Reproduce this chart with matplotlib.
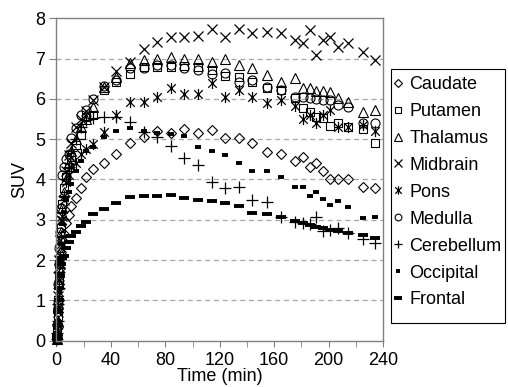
import numpy as np
import matplotlib
matplotlib.use("Agg")
from matplotlib import pyplot as plt
from matplotlib.path import Path
from matplotlib.patches import Rectangle

plt.rcParams['font.family'] = ['Liberation Sans', 'DejaVu Sans']

# time points (min)
t = [0.2, 0.5, 0.8, 1.2, 1.6, 2.0, 2.5, 3.2, 4.2, 5.5, 7, 9, 11, 14, 18, 22, 27, 35,
     44, 54, 64, 74, 84, 94, 104, 114, 124, 134, 144, 155, 165, 175, 181, 186, 191,
     196, 201, 207, 214, 225, 234]

caudate = [0.03, 0.15, 0.35, 0.7, 1.0, 1.4, 1.8, 2.2, 2.5, 2.65, 2.91, 3.12, 3.35, 3.55,
           3.8, 4.05, 4.25, 4.4, 4.63, 4.91, 5.06, 5.21, 5.16, 5.25, 5.16, 5.23, 5.04,
           5.02, 4.91, 4.69, 4.63, 4.47, 4.57, 4.32, 4.42, 4.22, 4.01, 4.01, 4.01, 3.82, 3.78]
putamen = [0.05, 0.25, 0.6, 1.0, 1.5, 1.9, 2.3, 2.8, 3.4, 3.78, 4.05, 4.3, 4.55, 4.85,
           5.1, 5.55, 5.6, 6.22, 6.43, 6.62, 6.8, 6.8, 6.8, 6.81, 6.8, 6.72, 6.57, 6.55,
           6.43, 6.26, 6.22, 6.01, 5.77, 5.68, 5.56, 5.52, 5.33, 5.39, 5.31, 5.25, 4.91]
thalamus = [0.05, 0.2, 0.5, 0.9, 1.4, 1.8, 2.2, 2.7, 3.3, 3.7, 4.0, 4.4, 4.7, 5.0,
            5.3, 5.5, 5.8, 6.3, 6.55, 6.9, 6.97, 7.0, 7.03, 7.0, 6.99, 6.92, 6.98, 6.85,
            6.76, 6.59, 6.43, 6.51, 6.26, 6.26, 6.2, 6.2, 6.18, 6.01, 5.93, 5.68, 5.72]
midbrain = [0.05, 0.3, 0.7, 1.1, 1.6, 2.0, 2.5, 3.0, 3.1, 3.5, 4.2, 4.6, 4.9, 5.3,
            5.5, 5.7, 5.97, 6.3, 6.68, 6.92, 7.23, 7.42, 7.53, 7.53, 7.56, 7.73, 7.54,
            7.73, 7.63, 7.67, 7.63, 7.46, 7.38, 7.71, 7.09, 7.46, 7.53, 7.3, 7.38, 7.17, 6.96]
pons = [0.03, 0.15, 0.4, 0.8, 1.2, 1.5, 1.9, 2.4, 3.0, 3.6, 3.95, 4.1, 4.3, 4.4,
        4.63, 4.75, 4.88, 5.19, 5.6, 5.93, 5.93, 6.05, 6.26, 6.13, 6.13, 6.4, 6.05,
        6.21, 6.05, 5.9, 5.97, 5.82, 5.49, 5.59, 5.41, 5.59, 5.72, 5.31, 5.31, 5.35, 5.21]
medulla = [0.1, 0.4, 0.9, 1.4, 1.9, 2.3, 2.7, 3.3, 4.1, 4.3, 4.5, 4.63, 5.03, 5.28,
           5.6, 5.72, 6.0, 6.32, 6.47, 6.76, 6.76, 6.83, 6.83, 6.76, 6.72, 6.62, 6.65,
           6.43, 6.47, 6.3, 6.22, 6.05, 6.05, 6.01, 6.0, 5.97, 5.98, 5.85, 5.81, 5.39, 5.39]
cerebellum = [0.03, 0.2, 0.5, 0.9, 1.3, 1.7, 2.1, 2.6, 3.2, 3.6, 4.0, 4.3, 4.7, 5.0,
              5.3, 5.48, 5.52, 5.56, 5.56, 5.43, 5.19, 5.05, 4.84, 4.53, 4.36, 3.95, 3.78,
              3.82, 3.49, 3.43, 3.08, 2.95, 2.91, 2.9, 3.08, 2.73, 2.75, 2.79, 2.68, 2.52, 2.43]
occipital = [0.03, 0.2, 0.5, 0.8, 1.2, 1.6, 2.0, 2.4, 2.9, 3.2, 3.5, 3.7, 3.9, 4.2,
             4.45, 4.7, 4.81, 5.06, 5.21, 5.27, 5.2, 5.16, 5.12, 5.08, 4.81, 4.71, 4.61,
             4.4, 4.22, 4.22, 4.05, 3.81, 3.81, 3.59, 3.7, 3.51, 3.37, 3.47, 3.32, 3.04, 3.08]
frontal = [0.05, 0.15, 0.4, 0.7, 1.0, 1.3, 1.6, 1.9, 2.05, 2.1, 2.3, 2.45, 2.6, 2.7,
           2.85, 2.95, 3.15, 3.28, 3.42, 3.56, 3.59, 3.59, 3.62, 3.53, 3.49, 3.47, 3.41,
           3.33, 3.16, 3.14, 3.06, 2.98, 2.91, 2.87, 2.83, 2.79, 2.75, 2.73, 2.68, 2.62, 2.54]

names = ['Caudate', 'Putamen', 'Thalamus', 'Midbrain', 'Pons', 'Medulla',
         'Cerebellum', 'Occipital', 'Frontal']
series = [caudate, putamen, thalamus, midbrain, pons, medulla, cerebellum, occipital, frontal]

# asterisk = x with a vertical bar
star = Path([(-1, -1), (1, 1), (-1, 1), (1, -1), (0, -1.3), (0, 1.3)],
            [Path.MOVETO, Path.LINETO, Path.MOVETO, Path.LINETO, Path.MOVETO, Path.LINETO])

styles = [
    dict(marker='D', ms=5.5, mew=0.8, mfc='none'),
    dict(marker='s', ms=6, mew=0.8, mfc='none'),
    dict(marker='^', ms=7, mew=0.8, mfc='none'),
    dict(marker='x', ms=7.5, mew=0.9),
    dict(marker=star, ms=8, mew=0.9),
    dict(marker='o', ms=6.5, mew=0.8, mfc='none'),
    dict(marker='+', ms=8, mew=0.9),
    dict(marker='_', ms=4.5, mew=2.8),
    dict(marker='_', ms=7.5, mew=2.8),
]

fig = plt.figure(figsize=(5.08, 3.87), dpi=100)
ax = fig.add_axes([0.1112, 0.1197, 0.6428, 0.833])

for name, y, st in zip(names, series, styles):
    ax.plot(t, y, ls='none', color='black', mec='black', label=name, clip_on=False, **st)

ax.set_xlim(0, 240)
ax.set_ylim(0, 8)
ax.set_xticks(np.arange(0, 241, 40))
ax.set_xticks(np.arange(0, 241, 20), minor=True)
ax.set_yticks(np.arange(0, 9, 1))
ax.tick_params(axis='both', labelsize=13, colors='black', direction='out')
ax.tick_params(axis='x', which='both', length=4, color='#808080', pad=4)
ax.tick_params(axis='y', length=5, color='#808080', pad=3)
for yv in range(1, 8):
    ax.axhline(yv, color='#a6a6a6', lw=0.9, ls=(0, (4, 3)), zorder=0)
for s in ax.spines.values():
    s.set_color('#808080')
    s.set_linewidth(1.0)

ax.set_xlabel('Time (min)', fontsize=13, labelpad=-0.5)
ax.set_ylabel('SUV', fontsize=13, labelpad=5)

# legend box drawn separately (Excel style)
W, H = 508, 387
fig.patches.append(Rectangle((391 / W, 1 - 323 / H), 114 / W, 254 / H,
                             transform=fig.transFigure, fill=False,
                             edgecolor='black', lw=0.8))
leg = ax.legend(loc='upper left', bbox_to_anchor=(393 / W, 1 - 76 / H),
                bbox_transform=fig.transFigure, fontsize=13, frameon=False,
                borderaxespad=0, borderpad=0, handlelength=0.6, handletextpad=0.3,
                labelspacing=0.55, markerscale=0.75)

fig.savefig('out.png', dpi=100)
